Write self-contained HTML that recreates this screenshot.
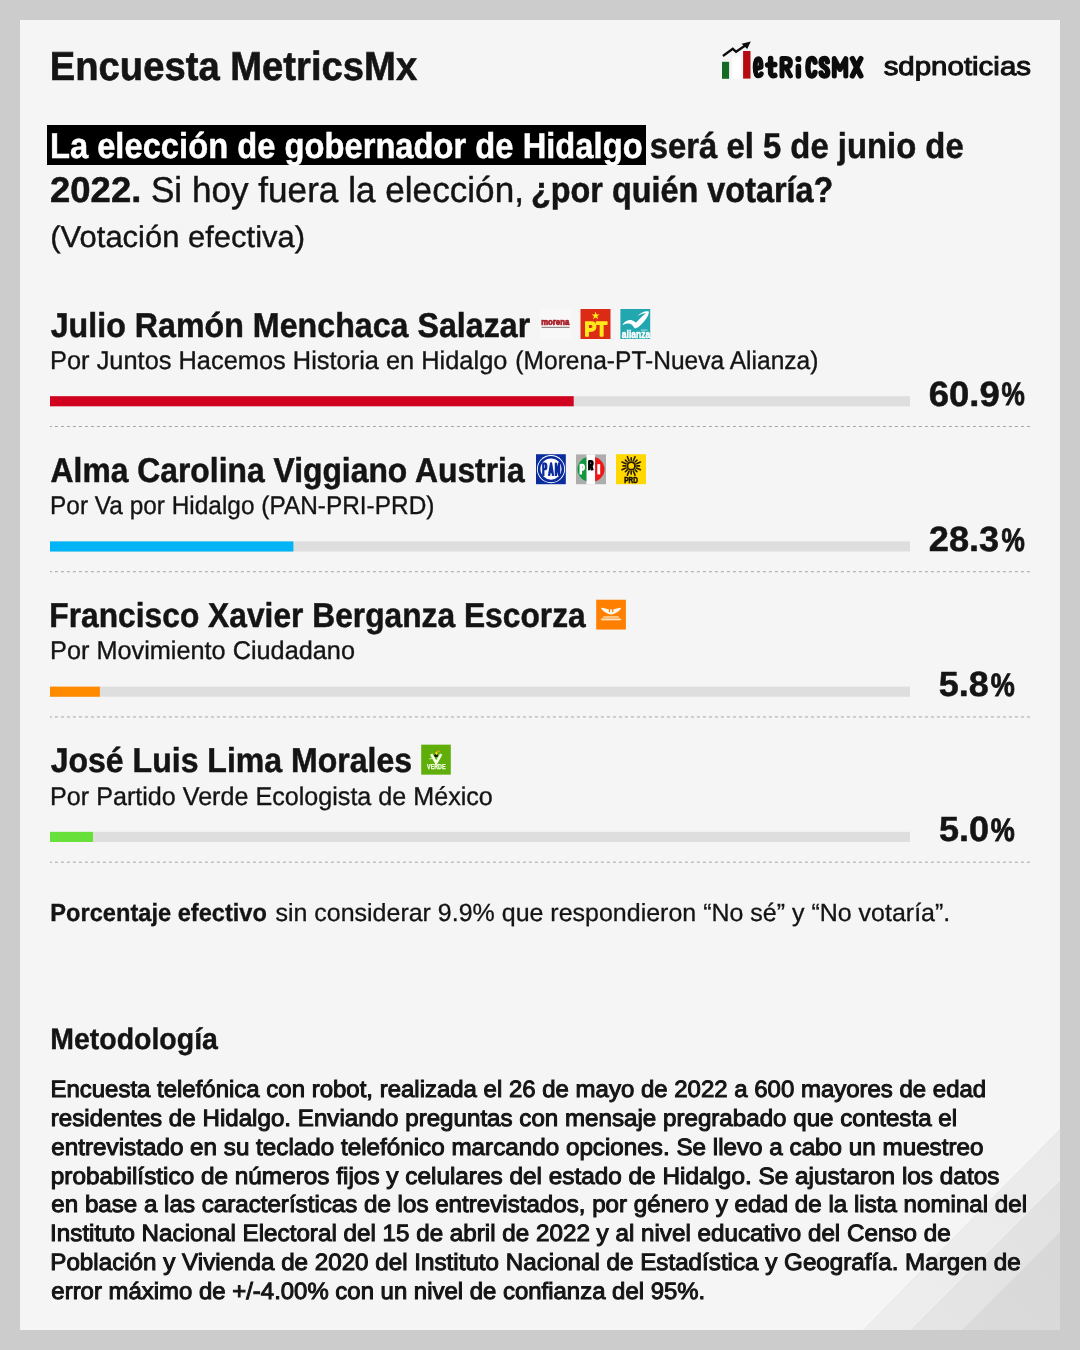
<!DOCTYPE html>
<html lang="es">
<head>
<meta charset="utf-8">
<title>Encuesta MetricsMx</title>
<style>
html,body{margin:0;padding:0;}
body{width:1080px;height:1350px;background:#cccccc;position:relative;overflow:hidden;font-family:"Liberation Sans",sans-serif;}
#panel{position:absolute;left:20px;top:20px;width:1040px;height:1310px;background:#f5f5f5;overflow:hidden;}
#stripes{position:absolute;left:0;top:0;width:1040px;height:1310px;}
.t{position:absolute;white-space:nowrap;margin:0;padding:0;transform-origin:0 0;}
#hl{position:absolute;left:47px;top:125px;width:599px;height:40px;background:#000;}
</style>
</head>
<body>
<div id="panel">
<svg id="stripes" viewBox="0 0 1040 1310">
<defs>
<linearGradient id="g1" gradientUnits="userSpaceOnUse" x1="1040" y1="1108" x2="838" y2="1310"><stop offset="0" stop-color="#eaeaea"/><stop offset="1" stop-color="#ededed"/></linearGradient>
<linearGradient id="g2" gradientUnits="userSpaceOnUse" x1="1040" y1="1160" x2="890" y2="1310"><stop offset="0" stop-color="#e1e1e1"/><stop offset="1" stop-color="#e5e5e5"/></linearGradient>
<linearGradient id="g3" gradientUnits="userSpaceOnUse" x1="1040" y1="1211.5" x2="941.5" y2="1310"><stop offset="0" stop-color="#d8d8d8"/><stop offset="1" stop-color="#dbdbdb"/></linearGradient>
</defs>
<polygon points="1040,1108 1040,1310 842,1310" fill="url(#g1)"/>
<polygon points="1040,1160 1040,1310 890,1310" fill="url(#g2)"/>
<polygon points="1040,1211.5 1040,1310 941.5,1310" fill="url(#g3)"/>
<g stroke="#f8f8f8" stroke-width="1.2" opacity="0.8">
<line x1="1040" y1="1107.3" x2="841.3" y2="1310"/>
<line x1="1040" y1="1159.3" x2="889.3" y2="1310" stroke="#efefef"/>
<line x1="1040" y1="1210.8" x2="940.8" y2="1310" stroke="#e6e6e6"/>
</g>
</svg>
</div>
<div id="hl"></div>
<div id="artw" style="position:absolute;left:0;top:0;width:1080px;height:1350px;will-change:transform;">
<svg id="art" width="1080" height="1350" viewBox="0 0 1080 1350" style="position:absolute;left:0;top:0" font-family="'Liberation Sans',sans-serif">
<!-- bars and dashed rules -->
<g id="bars" shape-rendering="auto">
<rect x="50" y="396.20" width="860" height="10.1" fill="#dedede"/><rect x="50" y="396.20" width="523.7" height="10.1" fill="#d0021f"/>
<line x1="50" y1="426.50" x2="1031" y2="426.50" stroke="#a4a4a4" stroke-width="1" stroke-dasharray="3 3" stroke-dashoffset="1.1"/>
<rect x="50" y="541.42" width="860" height="10.1" fill="#dedede"/><rect x="50" y="541.42" width="243.4" height="10.1" fill="#00b4f5"/>
<line x1="50" y1="571.72" x2="1031" y2="571.72" stroke="#a4a4a4" stroke-width="1" stroke-dasharray="3 3" stroke-dashoffset="1.1"/>
<rect x="50" y="686.64" width="860" height="10.1" fill="#dedede"/><rect x="50" y="686.64" width="49.9" height="10.1" fill="#ff8a00"/>
<line x1="50" y1="716.94" x2="1031" y2="716.94" stroke="#a4a4a4" stroke-width="1" stroke-dasharray="3 3" stroke-dashoffset="1.1"/>
<rect x="50" y="831.86" width="860" height="10.1" fill="#dedede"/><rect x="50" y="831.86" width="43" height="10.1" fill="#68e03a"/>
<line x1="50" y1="862.16" x2="1031" y2="862.16" stroke="#a4a4a4" stroke-width="1" stroke-dasharray="3 3" stroke-dashoffset="1.1"/>
</g>
<!-- MetricsMX logo -->
<g id="logo-metrics">
<rect x="722" y="61.8" width="7.1" height="17" fill="#146b24"/>
<rect x="732.2" y="56.4" width="8.6" height="22.4" fill="#ffffff"/>
<rect x="743.1" y="51" width="7.4" height="27.6" fill="#b50c12"/>
<polyline points="722.9,56 732.8,48.8 736.1,51.8 745.6,45.3" fill="none" stroke="#0c0c0c" stroke-width="2.3" stroke-linejoin="miter" stroke-linecap="butt"/>
<polygon points="750.8,41.5 741.6,43.8 747.2,49" fill="#0c0c0c"/>
<g fill="none" stroke="#0c0c0c" stroke-width="5.5" stroke-linejoin="round" stroke-linecap="round">
<path d="M755.8,68.9 L761.1,67.1 C761.3,61.4 760,58.6 758.3,58.6 C755.9,58.6 755.2,62.8 755.2,67.4 C755.2,72.6 756,75.9 758.4,75.9 C759.8,75.9 760.8,75.2 761.3,73.8" stroke-width="4.9"/>
<path d="M770.6,58.6 L770.6,72.4 C770.6,75 772.4,76.2 774.8,75.4 M767.6,64.9 L774.8,64.6"/>
<path d="M782,75.9 L782,58.6 L786,58.6 C789.2,58.6 790.4,60.4 790.4,62.8 C790.4,65.4 789,67 786,67 L782.5,67 M786,67.4 L790.4,75.9" stroke-width="5"/>
<path d="M798.4,66.6 L798.4,75.9"/>
<path d="M815,62.2 C814.6,59.6 813.2,58.6 811.7,58.6 C809,58.6 807.9,62.2 807.9,67.3 C807.9,72.4 809,75.9 811.7,75.9 C813.2,75.9 814.6,75 815,72.4"/>
<path d="M827.4,61.8 C827,59.6 825.9,58.6 824.4,58.6 C822.3,58.6 821.1,60 821.1,62.4 C821.1,65.2 823.2,66.3 824.6,67.2 C826.3,68.3 827.7,69.6 827.7,72.2 C827.7,74.6 826.4,75.9 824.4,75.9 C822.6,75.9 821.5,75 821.1,73"/>
<path d="M834.3,75.9 L834.3,58.6 L840,69.5 L845.8,58.6 L845.8,75.9" stroke-width="5"/>
<path d="M852.4,58.6 L860.8,75.9 M860.8,58.6 L852.4,75.9"/>
</g>
<circle cx="798.4" cy="59" r="3.1" fill="#0c0c0c"/>
</g>
<!-- row 1 icons -->
<g transform="translate(540,309)">
<rect width="31" height="30" fill="#f8f8f8"/>
<text x="1.2" y="15.9" font-size="8.2" font-weight="bold" fill="#a81c24" stroke="#a81c24" stroke-width="0.7" textLength="28" lengthAdjust="spacingAndGlyphs">morena</text>
<rect x="1.6" y="17.8" width="28" height="1.1" fill="#5a4545" opacity="0.7"/>
</g>
<g transform="translate(580.5,309)">
<rect width="30" height="30" fill="#dc2b14"/>
<polygon fill="#ffe81c" points="15.1,2.5 16.1,5.4 19.2,5.4 16.7,7.3 17.7,10.3 15.1,8.4 12.5,10.3 13.5,7.3 11,5.4 14.1,5.4"/>
<text x="4" y="26.6" font-size="19.6" font-weight="bold" fill="#ffe81c" stroke="#ffe81c" stroke-width="1.5" stroke-linejoin="round" textLength="22.6" lengthAdjust="spacingAndGlyphs">PT</text>
</g>
<g transform="translate(620.4,309)">
<rect width="29.8" height="30" fill="#22a7b0"/>
<path fill="#ffffff" d="M2.3,15.4 C4.5,12.2 8.5,10.2 12,11.4 C13.6,12 14.6,13 15.5,13.6 C18.5,10.5 23,6 25.5,4.2 C23,4 20,5.2 16.8,7.2 C20,3.8 25,1.4 28.4,2.6 C29,6.2 24,13.2 18.6,17.6 C16.6,19.3 14.6,19.8 13.8,19 C13.2,17.6 12,15.6 9.6,14.8 C7,14.1 4.4,14.9 2.3,16 Z"/>
<rect x="20.4" y="20.6" width="6.6" height="0.9" fill="#ffffff" opacity="0.7"/>
<text x="1.4" y="28.9" font-size="10.2" font-weight="bold" fill="#ffffff" stroke="#ffffff" stroke-width="0.45" textLength="28.4" lengthAdjust="spacingAndGlyphs">alianza</text>
</g>
<!-- row 2 icons -->
<g transform="translate(536,454.22)">
<rect width="29.8" height="30" fill="#0b2c9e"/>
<circle cx="15" cy="14.9" r="14.1" fill="#ffffff"/>
<circle cx="15" cy="14.9" r="11.9" fill="none" stroke="#0b2c9e" stroke-width="2.6"/>
<g fill="none" stroke="#0b2c9e" stroke-width="2.3" stroke-linejoin="round"><path d="M7.3,21.7 L7.3,9.5 L9,9.5 C10.7,9.5 10.7,15 9,15 L7.5,15"/><path d="M13,21.7 L15.05,9.2 L17.1,21.7 M14,18 L16.2,18"/><path d="M19.9,21.7 L19.9,9.4 L23.1,20.6 L23.1,8.3"/></g>
</g>
<g transform="translate(576,454.42)">
<clipPath id="pricl"><ellipse cx="15" cy="14.8" rx="13.5" ry="12.7"/></clipPath>
<rect width="30" height="29.8" fill="#adadad"/>
<rect x="10.4" width="8.7" height="29.8" fill="#ffffff"/>
<rect x="0" width="10.4" height="29.8" fill="#0c9a3c" clip-path="url(#pricl)"/>
<rect x="19.1" width="10.9" height="29.8" fill="#ee1515" clip-path="url(#pricl)"/>
<path d="M4.8,20 L4.8,10.5 L6.5,10.5 C8.2,10.5 8.2,15.2 6.5,15.2 L5,15.2" fill="none" stroke="#ffffff" stroke-width="2.5" stroke-linejoin="round"/>
<path d="M13.3,15.9 L13.3,6.8 L15.1,6.8 C16.9,6.8 16.9,10.8 15.1,10.8 L13.5,10.8 M15.2,11 L16.5,15.9" fill="none" stroke="#000000" stroke-width="2.5" stroke-linejoin="round"/>
<rect x="21.3" y="9.8" width="2.9" height="10.2" fill="#ffffff"/>
</g>
<g transform="translate(616,454.22)">
<rect width="30" height="30" fill="#ffd800"/>
<g stroke="#2a1c00" stroke-width="1.6" stroke-linecap="round" transform="translate(15.2,11.7)">
<line x1="0" y1="-5.6" x2="0" y2="-8.2" transform="rotate(0.0)"/>
<line x1="0" y1="-5.6" x2="0" y2="-10" transform="rotate(22.5)"/>
<line x1="0" y1="-5.6" x2="0" y2="-8.2" transform="rotate(45.0)"/>
<line x1="0" y1="-5.6" x2="0" y2="-10" transform="rotate(67.5)"/>
<line x1="0" y1="-5.6" x2="0" y2="-8.2" transform="rotate(90.0)"/>
<line x1="0" y1="-5.6" x2="0" y2="-10" transform="rotate(112.5)"/>
<line x1="0" y1="-5.6" x2="0" y2="-8.2" transform="rotate(135.0)"/>
<line x1="0" y1="-5.6" x2="0" y2="-10" transform="rotate(157.5)"/>
<line x1="0" y1="-5.6" x2="0" y2="-8.2" transform="rotate(180.0)"/>
<line x1="0" y1="-5.6" x2="0" y2="-10" transform="rotate(202.5)"/>
<line x1="0" y1="-5.6" x2="0" y2="-8.2" transform="rotate(225.0)"/>
<line x1="0" y1="-5.6" x2="0" y2="-10" transform="rotate(247.5)"/>
<line x1="0" y1="-5.6" x2="0" y2="-8.2" transform="rotate(270.0)"/>
<line x1="0" y1="-5.6" x2="0" y2="-10" transform="rotate(292.5)"/>
<line x1="0" y1="-5.6" x2="0" y2="-8.2" transform="rotate(315.0)"/>
<line x1="0" y1="-5.6" x2="0" y2="-10" transform="rotate(337.5)"/>
<circle r="3.8" fill="none" stroke-width="1.9"/>
</g>
<text x="8.2" y="28.9" font-size="8.2" font-weight="bold" fill="#1e1400" stroke="#1e1400" stroke-width="0.6" textLength="13.6" lengthAdjust="spacingAndGlyphs">PRD</text>
</g>
<!-- row 3 icon -->
<g transform="translate(596.2,599.74)">
<rect width="29.7" height="29.8" fill="#ff7f00"/>
<path fill="#fff8ec" d="M4.6,8 C8,8.2 11,8.8 13,10 L12.4,12.2 L13.6,12.6 L14.2,9.6 L15.6,9.6 L16.2,12.6 L17.4,12.2 L16.8,10 C18.8,8.8 21.8,8.2 25.2,8 C23.8,10.6 21,13 17.6,14.2 C16.2,14.8 13.6,14.8 12.2,14.2 C8.8,13 6,10.6 4.6,8 Z"/>
<rect x="7" y="16.5" width="15.6" height="1.5" fill="#ffd7a4"/>
<rect x="5" y="18.7" width="19.6" height="1.9" fill="#ffe3c0"/>
</g>
<!-- row 4 icon -->
<g transform="translate(421.2,744.66)">
<rect width="29.6" height="30" fill="#5fae0a"/>
<path d="M10,9.4 L15,18.3 L20,9.4" fill="none" stroke="#f4ffe8" stroke-width="2.7" stroke-linejoin="miter"/>
<path d="M8,14.4 L11.5,13.6" fill="none" stroke="#d8f5b8" stroke-width="0.9"/>
<ellipse cx="14.9" cy="10.9" rx="1.9" ry="1.7" fill="#121200"/>
<ellipse cx="15.2" cy="8.7" rx="1" ry="1.6" fill="#f4e21c"/>
<path d="M15.2,7.2 C16.4,5.6 18.6,5.4 20,6.6 C18.8,6.6 17.4,7.2 16.4,8.2 Z" fill="#e89a1c"/>
<text x="5.9" y="24.7" font-size="6.3" font-weight="bold" fill="#f4ffe8" stroke="#f4ffe8" stroke-width="0.25" textLength="18.4" lengthAdjust="spacingAndGlyphs">VERDE</text>
</g>
</svg>

</div>
<div id="txt" style="position:absolute;left:0;top:0;width:1080px;height:1350px;will-change:transform;">
<div class="t" id="title" style="left:0;top:0;font-size:40.5px;line-height:48.6px;font-weight:bold;transform:translate(49.72px,42.21px) skewX(0.03deg) scaleX(0.9435);color:#141414;-webkit-text-stroke:0.6px #141414;">Encuesta MetricsMx</div>
<div class="t" id="q1a" style="left:0;top:0;font-size:35.75px;line-height:42.9px;font-weight:bold;transform:translate(49.87px,124.51px) skewX(0.03deg) scaleX(0.9153);color:#ffffff;-webkit-text-stroke:0.5px #ffffff;">La elección de gobernador de Hidalgo</div>
<div class="t" id="q1b" style="left:0;top:0;font-size:35.75px;line-height:42.9px;font-weight:bold;transform:translate(649.72px,124.51px) skewX(0.03deg) scaleX(0.9186);color:#141414;-webkit-text-stroke:0.5px #141414;">será el 5 de junio de</div>
<div class="t" id="q2a" style="left:0;top:0;font-size:35.75px;line-height:42.9px;font-weight:bold;transform:translate(50.08px,168.71px) skewX(0.03deg) scaleX(1.0191);color:#141414;-webkit-text-stroke:0.5px #141414;">2022.</div>
<div class="t" id="q2b" style="left:0;top:0;font-size:35.75px;line-height:42.9px;font-weight:normal;transform:translate(150.88px,168.71px) skewX(0.03deg) scaleX(0.9828);color:#141414;-webkit-text-stroke:0.45px #141414;">Si hoy fuera la elección,</div>
<div class="t" id="q2c" style="left:0;top:0;font-size:35.75px;line-height:42.9px;font-weight:bold;transform:translate(530.93px,168.71px) skewX(0.03deg) scaleX(0.9063);color:#141414;-webkit-text-stroke:0.5px #141414;">¿por quién votaría?</div>
<div class="t" id="q3" style="left:0;top:0;font-size:30.2px;line-height:36.24px;font-weight:normal;transform:translate(50.28px,219.36px) skewX(0.03deg) scaleX(1.0259);color:#141414;-webkit-text-stroke:0.4px #141414;">(Votación efectiva)</div>
<div class="t" id="n0" style="left:0;top:0;font-size:34.5px;line-height:41.4px;font-weight:bold;transform:translate(50.65px,304.69px) skewX(0.03deg) scaleX(0.9333);color:#141414;-webkit-text-stroke:0.5px #141414;">Julio Ramón Menchaca Salazar</div>
<div class="t" id="s0" style="left:0;top:0;font-size:25.7px;line-height:30.84px;font-weight:normal;transform:translate(50.05px,344.62px) skewX(0.03deg) scaleX(0.9886);color:#141414;-webkit-text-stroke:0.35px #141414;">Por Juntos Hacemos Historia en Hidalgo</div>
<div class="t" id="s0b" style="left:0;top:0;font-size:25.7px;line-height:30.84px;font-weight:normal;transform:translate(515.36px,344.62px) skewX(0.03deg) scaleX(0.9562);color:#141414;-webkit-text-stroke:0.35px #141414;">(Morena-PT-Nueva Alianza)</div>
<div class="t" id="p0" style="left:0;top:0;font-size:35px;line-height:42.0px;font-weight:bold;transform:translate(928.66px,373.22px) skewX(0.03deg) scaleX(1.0432);color:#141414;-webkit-text-stroke:0.5px #141414;">60.9</div>
<div class="t" id="pc0" style="left:0;top:0;font-size:32.5px;line-height:39.0px;font-weight:bold;transform:translate(1001.48px,375.34px) skewX(0.03deg) scaleX(0.8068);color:#141414;-webkit-text-stroke:0.9px #141414;">%</div>
<div class="t" id="n1" style="left:0;top:0;font-size:34.5px;line-height:41.4px;font-weight:bold;transform:translate(50.57px,450.13px) skewX(0.03deg) scaleX(0.9227);color:#141414;-webkit-text-stroke:0.5px #141414;">Alma Carolina Viggiano Austria</div>
<div class="t" id="s1" style="left:0;top:0;font-size:25.7px;line-height:30.84px;font-weight:normal;transform:translate(50.02px,490.06px) skewX(0.03deg) scaleX(0.9504);color:#141414;-webkit-text-stroke:0.35px #141414;">Por Va por Hidalgo (PAN-PRI-PRD)</div>
<div class="t" id="p1" style="left:0;top:0;font-size:35px;line-height:42.0px;font-weight:bold;transform:translate(928.72px,517.66px) skewX(0.03deg) scaleX(1.0355);color:#141414;-webkit-text-stroke:0.5px #141414;">28.3</div>
<div class="t" id="pc1" style="left:0;top:0;font-size:32.5px;line-height:39.0px;font-weight:bold;transform:translate(1001.48px,520.78px) skewX(0.03deg) scaleX(0.8068);color:#141414;-webkit-text-stroke:0.9px #141414;">%</div>
<div class="t" id="n2" style="left:0;top:0;font-size:34.5px;line-height:41.4px;font-weight:bold;transform:translate(49.31px,594.57px) skewX(0.03deg) scaleX(0.9201);color:#141414;-webkit-text-stroke:0.5px #141414;">Francisco Xavier Berganza Escorza</div>
<div class="t" id="s2" style="left:0;top:0;font-size:25.7px;line-height:30.84px;font-weight:normal;transform:translate(50.07px,634.50px) skewX(0.03deg) scaleX(0.9839);color:#141414;-webkit-text-stroke:0.35px #141414;">Por Movimiento Ciudadano</div>
<div class="t" id="p2" style="left:0;top:0;font-size:35px;line-height:42.0px;font-weight:bold;transform:translate(938.65px,663.10px) skewX(0.03deg) scaleX(1.0281);color:#141414;-webkit-text-stroke:0.5px #141414;">5.8</div>
<div class="t" id="pc2" style="left:0;top:0;font-size:32.5px;line-height:39.0px;font-weight:bold;transform:translate(990.74px,666.22px) skewX(0.03deg) scaleX(0.8312);color:#141414;-webkit-text-stroke:0.9px #141414;">%</div>
<div class="t" id="n3" style="left:0;top:0;font-size:34.5px;line-height:41.4px;font-weight:bold;transform:translate(50.65px,740.01px) skewX(0.03deg) scaleX(0.9286);color:#141414;-webkit-text-stroke:0.5px #141414;">José Luis Lima Morales</div>
<div class="t" id="s3" style="left:0;top:0;font-size:25.7px;line-height:30.84px;font-weight:normal;transform:translate(50.10px,780.94px) skewX(0.03deg) scaleX(0.9781);color:#141414;-webkit-text-stroke:0.35px #141414;">Por Partido Verde Ecologista de México</div>
<div class="t" id="p3" style="left:0;top:0;font-size:35px;line-height:42.0px;font-weight:bold;transform:translate(938.90px,807.54px) skewX(0.03deg) scaleX(1.0307);color:#141414;-webkit-text-stroke:0.5px #141414;">5.0</div>
<div class="t" id="pc3" style="left:0;top:0;font-size:32.5px;line-height:39.0px;font-weight:bold;transform:translate(990.74px,810.66px) skewX(0.03deg) scaleX(0.8312);color:#141414;-webkit-text-stroke:0.9px #141414;">%</div>
<div class="t" id="f1" style="left:0;top:0;font-size:24.8px;line-height:29.76px;font-weight:bold;transform:translate(50.30px,898.27px) skewX(0.03deg) scaleX(0.9526);color:#141414;-webkit-text-stroke:0.35px #141414;">Porcentaje efectivo</div>
<div class="t" id="f2" style="left:0;top:0;font-size:24.8px;line-height:29.76px;font-weight:normal;transform:translate(275.39px,898.27px) skewX(0.03deg) scaleX(1.0075);color:#141414;-webkit-text-stroke:0.3px #141414;">sin considerar 9.9% que respondieron “No sé” y “No votaría”.</div>
<div class="t" id="mh" style="left:0;top:0;font-size:29.7px;line-height:35.64px;font-weight:bold;transform:translate(50.20px,1021.43px) skewX(0.03deg) scaleX(0.9593);color:#141414;-webkit-text-stroke:0.4px #141414;">Metodología</div>
<div class="t" id="m0" style="left:0;top:0;font-size:23.6px;line-height:28.32px;font-weight:normal;transform:translate(50.39px,1074.77px) skewX(0.03deg) scaleX(1.0163);color:#141414;-webkit-text-stroke:1.0px #141414;">Encuesta telefónica con robot, realizada el 26 de mayo de 2022 a 600 mayores de edad</div>
<div class="t" id="m1" style="left:0;top:0;font-size:23.6px;line-height:28.32px;font-weight:normal;transform:translate(50.71px,1104.31px) skewX(0.03deg) scaleX(1.0237);color:#141414;-webkit-text-stroke:1.0px #141414;">residentes de Hidalgo. Enviando preguntas con mensaje pregrabado que contesta el</div>
<div class="t" id="m2" style="left:0;top:0;font-size:23.6px;line-height:28.32px;font-weight:normal;transform:translate(51.36px,1132.85px) skewX(0.03deg) scaleX(1.0270);color:#141414;-webkit-text-stroke:1.0px #141414;">entrevistado en su teclado telefónico marcando opciones. Se llevo a cabo un muestreo</div>
<div class="t" id="m3" style="left:0;top:0;font-size:23.6px;line-height:28.32px;font-weight:normal;transform:translate(50.74px,1162.39px) skewX(0.03deg) scaleX(1.0318);color:#141414;-webkit-text-stroke:1.0px #141414;">probabilístico de números fijos y celulares del estado de Hidalgo. Se ajustaron los datos</div>
<div class="t" id="m4" style="left:0;top:0;font-size:23.6px;line-height:28.32px;font-weight:normal;transform:translate(51.35px,1189.93px) skewX(0.03deg) scaleX(1.0233);color:#141414;-webkit-text-stroke:1.0px #141414;">en base a las características de los entrevistados, por género y edad de la lista nominal del</div>
<div class="t" id="m5" style="left:0;top:0;font-size:23.6px;line-height:28.32px;font-weight:normal;transform:translate(50.08px,1219.47px) skewX(0.03deg) scaleX(1.0263);color:#141414;-webkit-text-stroke:1.0px #141414;">Instituto Nacional Electoral del 15 de abril de 2022 y al nivel educativo del Censo de</div>
<div class="t" id="m6" style="left:0;top:0;font-size:23.6px;line-height:28.32px;font-weight:normal;transform:translate(50.26px,1248.01px) skewX(0.03deg) scaleX(1.0253);color:#141414;-webkit-text-stroke:1.0px #141414;">Población y Vivienda de 2020 del Instituto Nacional de Estadística y Geografía. Margen de</div>
<div class="t" id="m7" style="left:0;top:0;font-size:23.6px;line-height:28.32px;font-weight:normal;transform:translate(51.35px,1276.55px) skewX(0.03deg) scaleX(1.0144);color:#141414;-webkit-text-stroke:1.0px #141414;">error máximo de +/-4.00% con un nivel de confianza del 95%.</div>
<div class="t" id="sdp" style="left:0;top:0;font-size:26px;line-height:31.2px;font-weight:normal;transform:translate(883.62px,50.50px) skewX(0.03deg) scaleX(1.1328);color:#111;-webkit-text-stroke:1.0px #111;">sdpnoticias</div>
</div>
</body>
</html>
